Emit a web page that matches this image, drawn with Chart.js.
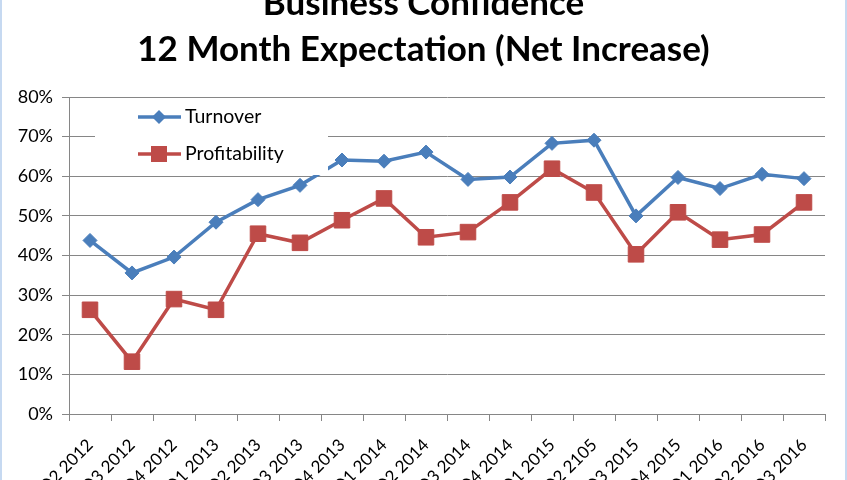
<!DOCTYPE html>
<html>
<head>
<meta charset="utf-8">
<script src="https://cdn.jsdelivr.net/npm/chart.js@4/dist/chart.umd.min.js"></script>
<style>
  body { margin: 0; background: #c6d9f1; overflow: hidden; }
  #wrap { position: absolute; left: 2px; top: 0; width: 843px; height: 480px; background: #fff; }
</style>
</head>
<body>
<div id="wrap"><canvas id="chart" width="843" height="480"></canvas></div>
<script>
// Quarter labels (typo "Q2 2105" kept as in the source chart)
const quarters = ["Q2 2012", "Q3 2012", "Q4 2012", "Q1 2013", "Q2 2013", "Q3 2013", "Q4 2013",
    "Q1 2014", "Q2 2014", "Q3 2014", "Q4 2014", "Q1 2015", "Q2 2105", "Q3 2015", "Q4 2015",
    "Q1 2016", "Q2 2016", "Q3 2016"];

// Net increase, percent
const turnover = [43.8, 35.6, 39.6, 48.4, 54.1, 57.7, 64.1, 63.8, 66.1, 59.2, 59.8, 68.3, 69.1,
    50.0, 59.7, 56.9, 60.5, 59.4];
const profitability = [26.3, 13.2, 29.0, 26.3, 45.5, 43.2, 48.9, 54.4, 44.6, 45.9, 53.4, 61.9, 55.9,
    40.3, 50.9, 44.0, 45.3, 53.4];

const yTicks = [0, 10, 20, 30, 40, 50, 60, 70, 80];
const titleLines = ["Business Confidence", "12 Month Expectation (Net Increase)"];

const FONT = "Lato, 'Open Sans', sans-serif";
const BLUE = "#4a7ebb";
const RED = "#be4b48";
const GRID = "#868686";

// Title drawn by hand so the first line can sit partly above the canvas like the original
const titlePlugin = {
    id: "titleLines",
    afterDraw(chart) {
        const ctx = chart.ctx;
        ctx.save();
        ctx.fillStyle = "#000";
        ctx.font = "bold 35px " + FONT;
        ctx.textAlign = "center";
        ctx.textBaseline = "alphabetic";
        ctx.fillText(titleLines[0], chart.width / 2, 15);
        ctx.fillText(titleLines[1], chart.width / 2, 61);
        ctx.restore();
    }
};

// Legend sits inside the plot on a white box covering the lines
const legendPlugin = {
    id: "innerLegend",
    afterDatasetsDraw(chart) {
        const ctx = chart.ctx;
        ctx.save();
        ctx.fillStyle = "#fff";
        ctx.fillRect(93, 99, 233, 76);
        chart.data.datasets.forEach((ds, i) => {
            const y = 117 + i * 37;
            ctx.strokeStyle = ds.borderColor;
            ctx.lineWidth = 3.5;
            ctx.beginPath();
            ctx.moveTo(136, y);
            ctx.lineTo(179, y);
            ctx.stroke();
            ctx.fillStyle = ds.backgroundColor;
            ctx.beginPath();
            if (ds.pointStyle === "rectRot") {
                ctx.moveTo(157, y - 7);
                ctx.lineTo(164, y);
                ctx.lineTo(157, y + 7);
                ctx.lineTo(150, y);
            } else {
                ctx.rect(149, y - 8, 16, 16);
            }
            ctx.fill();
            ctx.fillStyle = "#000";
            ctx.font = "19.5px " + FONT;
            ctx.textBaseline = "middle";
            ctx.fillText(ds.label, 183, y);
        });
        ctx.restore();
    }
};

new Chart(document.getElementById("chart"), {
    type: "line",
    data: {
        labels: quarters,
        datasets: [{
            label: "Turnover",
            data: turnover,
            borderColor: BLUE,
            backgroundColor: BLUE,
            borderWidth: 3.5,
            pointStyle: "rectRot",
            pointRadius: 7,
            pointBorderWidth: 1,
            tension: 0
        }, {
            label: "Profitability",
            data: profitability,
            borderColor: RED,
            backgroundColor: RED,
            borderWidth: 3.5,
            pointStyle: "rect",
            pointRadius: 11,
            pointBorderWidth: 1,
            tension: 0
        }]
    },
    options: {
        responsive: false,
        animation: false,
        layout: { padding: { top: 97, right: 20, left: 0, bottom: 0 } },
        plugins: {
            legend: { display: false },
            title: { display: false },
            tooltip: { enabled: false }
        },
        scales: {
            x: {
                offset: true,
                grid: { display: true, drawOnChartArea: false, offset: true, color: GRID, tickLength: 7 },
                border: { color: GRID, width: 1 },
                ticks: {
                    color: "#000",
                    font: { family: FONT, size: 17 },
                    minRotation: 45,
                    maxRotation: 45,
                    autoSkip: false,
                    padding: 14
                },
                afterFit(scale) { scale.height = 66; }
            },
            y: {
                min: 0,
                max: 80,
                afterBuildTicks(scale) { scale.ticks = yTicks.map(v => ({ value: v })); },
                grid: { color: GRID, tickLength: 7 },
                border: { color: GRID, width: 1 },
                ticks: {
                    color: "#000",
                    font: { family: FONT, size: 18 },
                    padding: 9,
                    callback: v => v + "%"
                },
                afterFit(scale) { scale.width = 67; }
            }
        }
    },
    plugins: [legendPlugin, titlePlugin]
});
</script>
</body>
</html>
